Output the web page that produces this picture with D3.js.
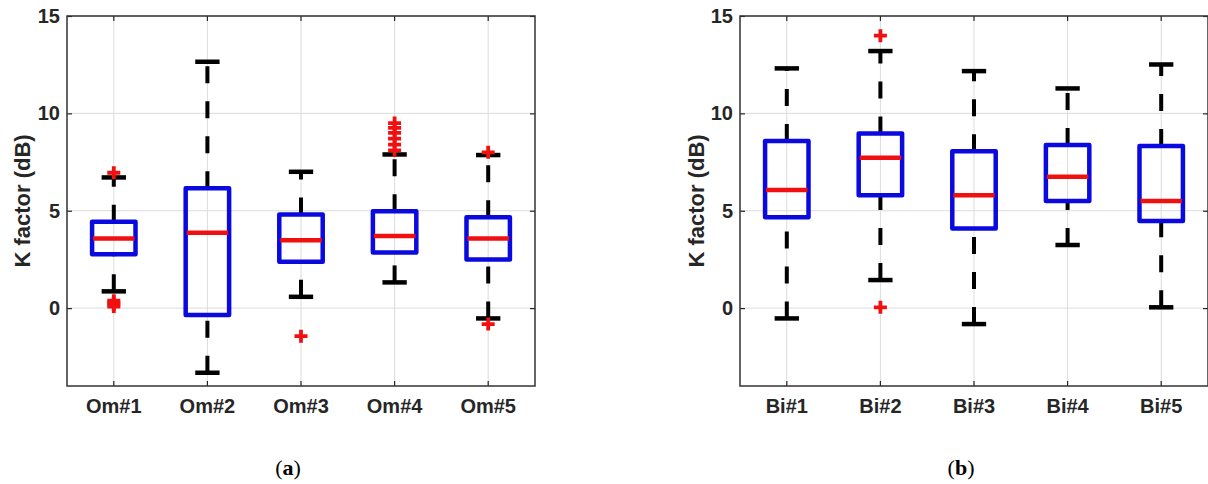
<!DOCTYPE html>
<html>
<head>
<meta charset="utf-8">
<script src="https://cdn.jsdelivr.net/npm/d3@7"></script>
<style>
  html, body { margin: 0; padding: 0; background: #fff; }
  svg { display: block; }
  .tick text { font-family: "Liberation Sans", Arial, sans-serif; font-weight: bold; fill: #262626; }
</style>
</head>
<body>
<svg id="chart" width="1208" height="484"></svg>
<script>
// ---------- data ----------
const omCategories = ["Om#1", "Om#2", "Om#3", "Om#4", "Om#5"];
const omLowerWhisker = [0.86, -3.32, 0.58, 1.32, -0.53];
const omQ1          = [2.76, -0.36, 2.38, 2.86, 2.50];
const omMedian      = [3.58, 3.87, 3.49, 3.70, 3.58];
const omQ3          = [4.43, 6.15, 4.81, 4.98, 4.66];
const omUpperWhisker = [6.71, 12.65, 7.00, 7.89, 7.86];
const omOutliers = [
  [0.08, 0.18, 0.28, 0.38, 6.95],
  [],
  [-1.44],
  [8.10, 8.40, 8.70, 9.00, 9.25, 9.50],
  [8.00, -0.82]
];

const biCategories = ["Bi#1", "Bi#2", "Bi#3", "Bi#4", "Bi#5"];
const biLowerWhisker = [-0.53, 1.44, -0.82, 3.24, 0.04];
const biQ1          = [4.66, 5.80, 4.09, 5.50, 4.47];
const biMedian      = [6.06, 7.72, 5.80, 6.74, 5.50];
const biQ3          = [8.58, 8.97, 8.06, 8.37, 8.32];
const biUpperWhisker = [12.31, 13.20, 12.17, 11.28, 12.51];
const biOutliers = [
  [],
  [13.99, 0.04],
  [],
  [],
  []
];

const yDomain = [-4, 15];
const yTickValues = [0, 5, 10, 15];
const yLabel = "K factor (dB)";
const captions = ["a", "b"];

// ---------- drawing ----------
const svg = d3.select("#chart");
const FONT = '"Liberation Sans", Arial, sans-serif';
const BLUE = "#0a0ae0", RED = "#f01010", BLACK = "#000";

function drawPanel(p) {
  const g = svg.append("g");
  const x = d3.scaleBand().domain(p.categories).range([p.left, p.right]).paddingInner(0).paddingOuter(0);
  const y = d3.scaleLinear().domain(yDomain).range([p.bottom, p.top]);
  const step = x.bandwidth();
  const cx = c => x(c) + step / 2;

  // grid
  g.append("g").selectAll("line.gx").data(p.categories).join("line")
    .attr("x1", cx).attr("x2", cx).attr("y1", p.top).attr("y2", p.bottom)
    .attr("stroke", "#dcdcdc").attr("stroke-width", 1);
  g.append("g").selectAll("line.gy").data(yTickValues).join("line")
    .attr("x1", p.left).attr("x2", p.right).attr("y1", d => y(d)).attr("y2", d => y(d))
    .attr("stroke", "#dcdcdc").attr("stroke-width", 1);

  // axes
  const ax = g.append("g").attr("transform", `translate(${p.left},0)`)
    .call(d3.axisLeft(y).tickValues(yTickValues).tickSize(-5).tickPadding(7));
  ax.selectAll("text").style("font-size", "20px");
  const axr = g.append("g").attr("transform", `translate(${p.right},0)`)
    .call(d3.axisRight(y).tickValues(yTickValues).tickSize(-5).tickFormat(""));
  const axb = g.append("g").attr("transform", `translate(0,${p.bottom})`)
    .call(d3.axisBottom(x).tickSize(-5).tickPadding(13));
  axb.selectAll("text").style("font-size", "20px");
  const axt = g.append("g").attr("transform", `translate(0,${p.top})`)
    .call(d3.axisTop(x).tickSize(-5).tickFormat(""));
  [ax, axr, axb, axt].forEach(a => {
    a.select(".domain").remove();
    a.selectAll(".tick line").attr("stroke", "#262626").attr("stroke-width", 1.2);
  });
  g.append("rect").attr("x", p.left).attr("y", p.top)
    .attr("width", p.right - p.left).attr("height", p.bottom - p.top)
    .attr("fill", "none").attr("stroke", "#333").attr("stroke-width", 1.5);

  const rows = p.categories.map((c, i) => ({
    c, lw: p.lw[i], q1: p.q1[i], med: p.med[i], q3: p.q3[i], uw: p.uw[i], out: p.out[i]
  }));
  const boxHalf = step * 0.232;
  const capHalf = step * 0.13;
  const bx = g.append("g");

  // whiskers (dashed, pattern starting from the lower-value end)
  bx.selectAll("line.wu").data(rows).join("line")
    .attr("x1", d => cx(d.c)).attr("x2", d => cx(d.c))
    .attr("y1", d => y(d.q3)).attr("y2", d => y(d.uw))
    .attr("stroke", BLACK).attr("stroke-width", 4).attr("stroke-dasharray", "17,18");
  bx.selectAll("line.wl").data(rows).join("line")
    .attr("x1", d => cx(d.c)).attr("x2", d => cx(d.c))
    .attr("y1", d => y(d.lw)).attr("y2", d => y(d.q1))
    .attr("stroke", BLACK).attr("stroke-width", 4).attr("stroke-dasharray", "17,18");
  // caps
  ["uw", "lw"].forEach(k => {
    bx.selectAll("line.cap" + k).data(rows).join("line")
      .attr("x1", d => cx(d.c) - capHalf).attr("x2", d => cx(d.c) + capHalf)
      .attr("y1", d => y(d[k])).attr("y2", d => y(d[k]))
      .attr("stroke", BLACK).attr("stroke-width", 4.5);
  });
  // boxes
  bx.selectAll("rect.box").data(rows).join("rect")
    .attr("x", d => cx(d.c) - boxHalf).attr("width", boxHalf * 2)
    .attr("y", d => y(d.q3)).attr("height", d => y(d.q1) - y(d.q3))
    .attr("fill", "none").attr("stroke", BLUE).attr("stroke-width", 4.5)
    .attr("stroke-linejoin", "round");
  // medians
  bx.selectAll("line.med").data(rows).join("line")
    .attr("x1", d => cx(d.c) - boxHalf + 1).attr("x2", d => cx(d.c) + boxHalf - 1)
    .attr("y1", d => y(d.med)).attr("y2", d => y(d.med))
    .attr("stroke", RED).attr("stroke-width", 4.5);
  // outliers (+)
  const outs = rows.flatMap(d => d.out.map(v => ({ c: d.c, v })));
  const ms = 6.5;
  bx.selectAll("path.out").data(outs).join("path")
    .attr("d", d => {
      const px = cx(d.c), py = y(d.v);
      return `M${px - ms},${py}H${px + ms}M${px},${py - ms}V${py + ms}`;
    })
    .attr("stroke", RED).attr("stroke-width", 3.8).attr("fill", "none");

  // y label
  g.append("text")
    .attr("transform", `translate(${p.ylabelX},${(p.top + p.bottom) / 2}) rotate(-90)`)
    .attr("text-anchor", "middle").attr("dominant-baseline", "central")
    .style("font-family", FONT).style("font-weight", "bold").style("font-size", "22px")
    .attr("fill", "#262626").text(yLabel);

  // caption
  const cap = g.append("text").attr("x", p.captionX).attr("y", 475)
    .attr("text-anchor", "middle")
    .style("font-family", '"Liberation Serif", "Times New Roman", serif').style("font-size", "22px")
    .attr("fill", "#000");
  cap.append("tspan").text("(");
  cap.append("tspan").style("font-weight", "bold").text(p.caption);
  cap.append("tspan").text(")");
}

drawPanel({
  categories: omCategories, lw: omLowerWhisker, q1: omQ1, med: omMedian, q3: omQ3, uw: omUpperWhisker, out: omOutliers,
  left: 67, right: 535, top: 16, bottom: 386, ylabelX: 22, captionX: 288, caption: captions[0]
});
drawPanel({
  categories: biCategories, lw: biLowerWhisker, q1: biQ1, med: biMedian, q3: biQ3, uw: biUpperWhisker, out: biOutliers,
  left: 740, right: 1208, top: 16, bottom: 386, ylabelX: 696, captionX: 961, caption: captions[1]
});
</script>
</body>
</html>
